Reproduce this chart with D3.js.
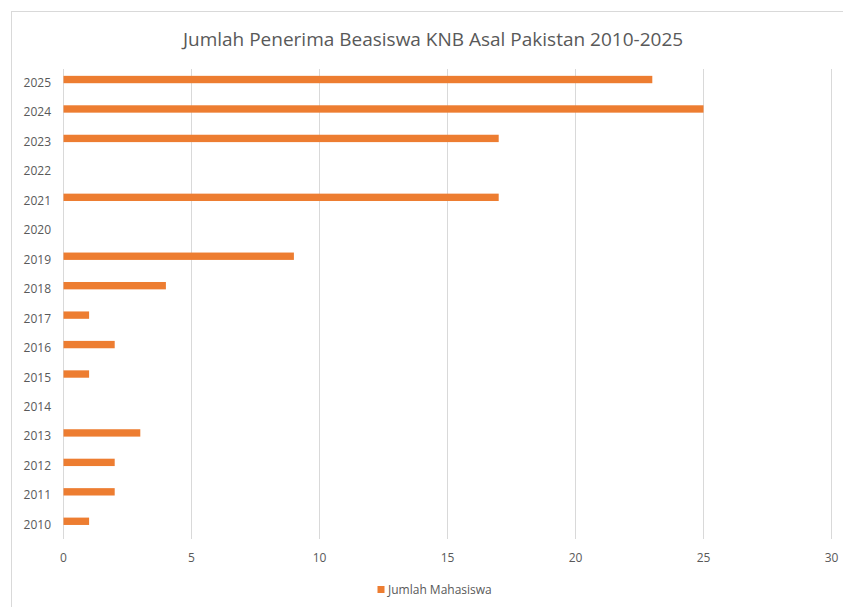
<!DOCTYPE html>
<html><head><meta charset="utf-8">
<script src="https://cdn.jsdelivr.net/npm/d3@7"></script>
<style>body{margin:0;background:#fff}svg{display:block}</style>
</head><body>
<script>
const years = ["2010","2011","2012","2013","2014","2015","2016","2017","2018","2019","2020","2021","2022","2023","2024","2025"];
const values = [1,2,2,3,0,1,2,1,4,9,0,17,0,17,25,23];
const xTicks = [0,5,10,15,20,25,30];
const seriesName = "Jumlah Mahasiswa";
const title = "Jumlah Penerima Beasiswa KNB Asal Pakistan 2010-2025";

const W = 843, H = 607;
const font = "'Open Sans', sans-serif";
const textColor = "#595959";
const orange = "#ED7D31";
const svg = d3.select("body").append("svg").attr("width", W).attr("height", H);

svg.append("rect").attr("x", 11.5).attr("y", 11.5).attr("width", W + 20).attr("height", H + 20)
  .attr("fill", "#fff").attr("stroke", "#d9d9d9").attr("stroke-width", 1);

const x = d3.scaleLinear().domain([0, 30]).range([63.5, 831.5]);
const y = d3.scaleBand().domain(years.slice().reverse()).range([64.8, 536]).paddingInner(0.75).paddingOuter(0.375);

// gridlines
svg.append("g").selectAll("line").data(xTicks).join("line")
  .attr("x1", d => x(d)).attr("x2", d => x(d)).attr("y1", 69).attr("y2", 539)
  .attr("stroke", "#d9d9d9").attr("stroke-width", 1);

// bars
svg.append("g").selectAll("rect").data(years.map((yr, i) => ({yr, v: values[i]})).filter(d => d.v > 0)).join("rect")
  .attr("x", x(0)).attr("y", d => y(d.yr)).attr("width", d => x(d.v) - x(0)).attr("height", y.bandwidth())
  .attr("fill", orange);

// x axis labels
svg.append("g").selectAll("text").data(xTicks).join("text")
  .attr("x", d => x(d)).attr("y", 562).attr("text-anchor", "middle")
  .attr("font-family", font).attr("font-size", 12).attr("fill", textColor).text(d => d);

// y axis labels
svg.append("g").selectAll("text").data(years).join("text")
  .attr("x", 51).attr("y", d => y(d) + y.bandwidth() / 2 + 7.5).attr("text-anchor", "end")
  .attr("font-family", font).attr("font-size", 12).attr("fill", textColor).text(d => d);

// title
svg.append("text").attr("x", 433).attr("y", 46).attr("text-anchor", "middle")
  .attr("font-family", font).attr("font-size", 19).attr("fill", textColor).text(title);

// legend
svg.append("rect").attr("x", 377.5).attr("y", 586).attr("width", 7).attr("height", 7).attr("fill", orange);
svg.append("text").attr("x", 388).attr("y", 593.5).attr("font-family", font).attr("font-size", 12)
  .attr("fill", textColor).text(seriesName);
</script>
</body></html>
